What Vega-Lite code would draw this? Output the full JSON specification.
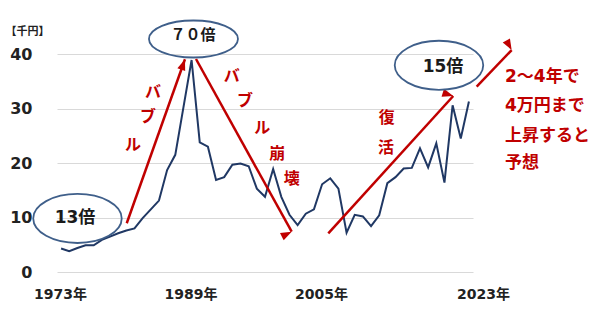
{
  "$schema": "https://vega.github.io/schema/vega-lite/v6.json",
  "width": 416,
  "height": 218,
  "autosize": "none",
  "padding": {"left": 57, "top": 54, "right": 127, "bottom": 38},
  "background": "white",
  "config": {"view": {"stroke": null}, "font": "DejaVu Sans, 'Noto Sans CJK JP'"},
  "datasets": {
    "nikkei": [
      {"year": 1973, "value": 4.3}, {"year": 1974, "value": 3.8}, {"year": 1975, "value": 4.4},
      {"year": 1976, "value": 4.9}, {"year": 1977, "value": 4.9}, {"year": 1978, "value": 5.9},
      {"year": 1979, "value": 6.5}, {"year": 1980, "value": 7.1}, {"year": 1981, "value": 7.6},
      {"year": 1982, "value": 8.0}, {"year": 1983, "value": 9.9}, {"year": 1984, "value": 11.5},
      {"year": 1985, "value": 13.1}, {"year": 1986, "value": 18.7}, {"year": 1987, "value": 21.5},
      {"year": 1988, "value": 30.2}, {"year": 1989, "value": 38.9}, {"year": 1990, "value": 23.8},
      {"year": 1991, "value": 23.0}, {"year": 1992, "value": 16.9}, {"year": 1993, "value": 17.4},
      {"year": 1994, "value": 19.7}, {"year": 1995, "value": 19.9}, {"year": 1996, "value": 19.4},
      {"year": 1997, "value": 15.3}, {"year": 1998, "value": 13.8}, {"year": 1999, "value": 18.9},
      {"year": 2000, "value": 13.8}, {"year": 2001, "value": 10.5}, {"year": 2002, "value": 8.6},
      {"year": 2003, "value": 10.7}, {"year": 2004, "value": 11.5}, {"year": 2005, "value": 16.1},
      {"year": 2006, "value": 17.2}, {"year": 2007, "value": 15.3}, {"year": 2008, "value": 7.2},
      {"year": 2009, "value": 10.5}, {"year": 2010, "value": 10.2}, {"year": 2011, "value": 8.4},
      {"year": 2012, "value": 10.4}, {"year": 2013, "value": 16.3}, {"year": 2014, "value": 17.4},
      {"year": 2015, "value": 19.0}, {"year": 2016, "value": 19.1}, {"year": 2017, "value": 22.7},
      {"year": 2018, "value": 19.2}, {"year": 2019, "value": 23.6}, {"year": 2020, "value": 16.4},
      {"year": 2021, "value": 30.6}, {"year": 2022, "value": 24.5}, {"year": 2023, "value": 31.3}
    ],
    "arrows": [
      {"id": "a", "year": 1981.05, "value": 8.94, "year2": 1988.19, "value2": 39.03},
      {"id": "b", "year": 1989.54, "value": 39.08, "year2": 2001.27, "value2": 7.39},
      {"id": "c", "year": 2005.76, "value": 7.1, "year2": 2021.08, "value2": 32.29},
      {"id": "d", "year": 2023.95, "value": 34.0, "year2": 2028.24, "value2": 40.73}
    ],
    "ellipseFlat": [{"year": 1989.23, "value": 42.75}],
    "ellipseRound": [{"year": 1975.01, "value": 9.82}, {"year": 2019.33, "value": 37.93}],
    "bigLabels": [
      {"year": 1974.71, "value": 9.91, "label": "13倍"},
      {"year": 2019.82, "value": 37.67, "label": "15倍"}
    ],
    "peakLabel": [{"year": 1989.17, "value": 43.49, "label": "７０倍"}],
    "redChars": [
      {"year": 1984.27, "value": 33.08, "label": "バ"},
      {"year": 1983.66, "value": 28.5, "label": "ブ"},
      {"year": 1981.82, "value": 23.3, "label": "ル"},
      {"year": 1993.92, "value": 36.02, "label": "バ"},
      {"year": 1995.55, "value": 31.43, "label": "ブ"},
      {"year": 1997.67, "value": 26.37, "label": "ル"},
      {"year": 1999.51, "value": 21.65, "label": "崩"},
      {"year": 2001.27, "value": 17.06, "label": "壊"},
      {"year": 2012.92, "value": 28.2, "label": "復"},
      {"year": 2012.83, "value": 22.75, "label": "活"}
    ],
    "forecast": [
      {"year": 2027.42, "value": 35.83, "label": "2～4年で"},
      {"year": 2027.42, "value": 30.46, "label": "4万円まで"},
      {"year": 2027.42, "value": 24.95, "label": "上昇すると"},
      {"year": 2027.42, "value": 20.0, "label": "予想"}
    ]
  },
  "layer": [
    {
      "data": {"name": "nikkei"},
      "mark": {"type": "line", "color": "#203864", "strokeWidth": 2},
      "encoding": {
        "x": {
          "field": "year", "type": "quantitative",
          "scale": {"domain": [1972.5, 2023.5], "nice": false, "zero": false},
          "axis": {
            "values": [1973, 1989, 2005, 2023],
            "labelExpr": "datum.value + '年'",
            "title": null, "grid": false, "domain": false, "ticks": false,
            "labelFontSize": 14, "labelFontWeight": "bold", "labelColor": "#222222",
            "labelPadding": 15, "labelFlush": false, "labelOverlap": false,
            "labelOffset": {"condition": {"test": "datum.value == 2023", "value": 14}, "value": -1}
          }
        },
        "y": {
          "field": "value", "type": "quantitative",
          "scale": {"domain": [0, 40], "nice": false},
          "axis": {
            "values": [0, 10, 20, 30, 40],
            "title": "【千円】", "titleAngle": 0, "titleX": -30, "titleY": -23,
            "titleAlign": "center", "titleBaseline": "middle",
            "titleFontSize": 11, "titleFontWeight": "bold", "titleColor": "#222222",
            "titleFont": "'Noto Sans CJK JP'",
            "grid": true, "gridColor": "#D9D9D9", "domain": false, "ticks": false,
            "labelPadding": 25, "labelFontSize": 16, "labelFontWeight": "bold", "labelColor": "#222222"
          }
        }
      }
    },
    {
      "data": {"name": "arrows"},
      "mark": {"type": "rule", "color": "#C00000", "strokeWidth": 2.5},
      "encoding": {
        "x": {"field": "year", "type": "quantitative"},
        "y": {"field": "value", "type": "quantitative"},
        "x2": {"field": "year2"},
        "y2": {"field": "value2"}
      }
    },
    {
      "data": {"name": "arrows"},
      "mark": {"type": "point", "shape": "M0,0L0.75,2L-0.75,2Z", "filled": true, "color": "#C00000", "opacity": 1, "size": 121},
      "encoding": {
        "x": {"field": "year2", "type": "quantitative"},
        "y": {"field": "value2", "type": "quantitative"},
        "angle": {"field": "id", "type": "nominal", "scale": {"domain": ["a", "b", "c", "d"], "range": [19.6, 151, 42.3, 43.6]}, "legend": null}
      }
    },
    {
      "data": {"name": "ellipseFlat"},
      "mark": {"type": "point", "shape": "M-1,0A1,0.416,0,1,0,1,0A1,0.416,0,1,0,-1,0Z", "filled": false, "stroke": "#3F5F8A", "strokeWidth": 1.8, "opacity": 1, "size": 7921},
      "encoding": {
        "x": {"field": "year", "type": "quantitative"},
        "y": {"field": "value", "type": "quantitative"}
      }
    },
    {
      "data": {"name": "ellipseRound"},
      "mark": {"type": "point", "shape": "M-1,0A1,0.554,0,1,0,1,0A1,0.554,0,1,0,-1,0Z", "filled": false, "stroke": "#3F5F8A", "strokeWidth": 1.8, "opacity": 1, "size": 7832},
      "encoding": {
        "x": {"field": "year", "type": "quantitative"},
        "y": {"field": "value", "type": "quantitative"}
      }
    },
    {
      "data": {"name": "bigLabels"},
      "mark": {"type": "text", "fontSize": 17, "fontWeight": "bold", "color": "#1A1A1A", "align": "center", "baseline": "middle"},
      "encoding": {
        "x": {"field": "year", "type": "quantitative"},
        "y": {"field": "value", "type": "quantitative"},
        "text": {"field": "label"}
      }
    },
    {
      "data": {"name": "peakLabel"},
      "mark": {"type": "text", "fontSize": 15, "fontWeight": "bold", "color": "#1A1A1A", "align": "center", "baseline": "middle", "font": "'Noto Sans CJK JP'"},
      "encoding": {
        "x": {"field": "year", "type": "quantitative"},
        "y": {"field": "value", "type": "quantitative"},
        "text": {"field": "label"}
      }
    },
    {
      "data": {"name": "redChars"},
      "mark": {"type": "text", "fontSize": 16, "fontWeight": "bold", "color": "#C00000", "align": "center", "baseline": "middle", "font": "'Noto Sans CJK JP'"},
      "encoding": {
        "x": {"field": "year", "type": "quantitative"},
        "y": {"field": "value", "type": "quantitative"},
        "text": {"field": "label"}
      }
    },
    {
      "data": {"name": "forecast"},
      "mark": {"type": "text", "fontSize": 17, "fontWeight": "bold", "color": "#C00000", "align": "left", "baseline": "middle"},
      "encoding": {
        "x": {"field": "year", "type": "quantitative"},
        "y": {"field": "value", "type": "quantitative"},
        "text": {"field": "label"}
      }
    }
  ]
}
